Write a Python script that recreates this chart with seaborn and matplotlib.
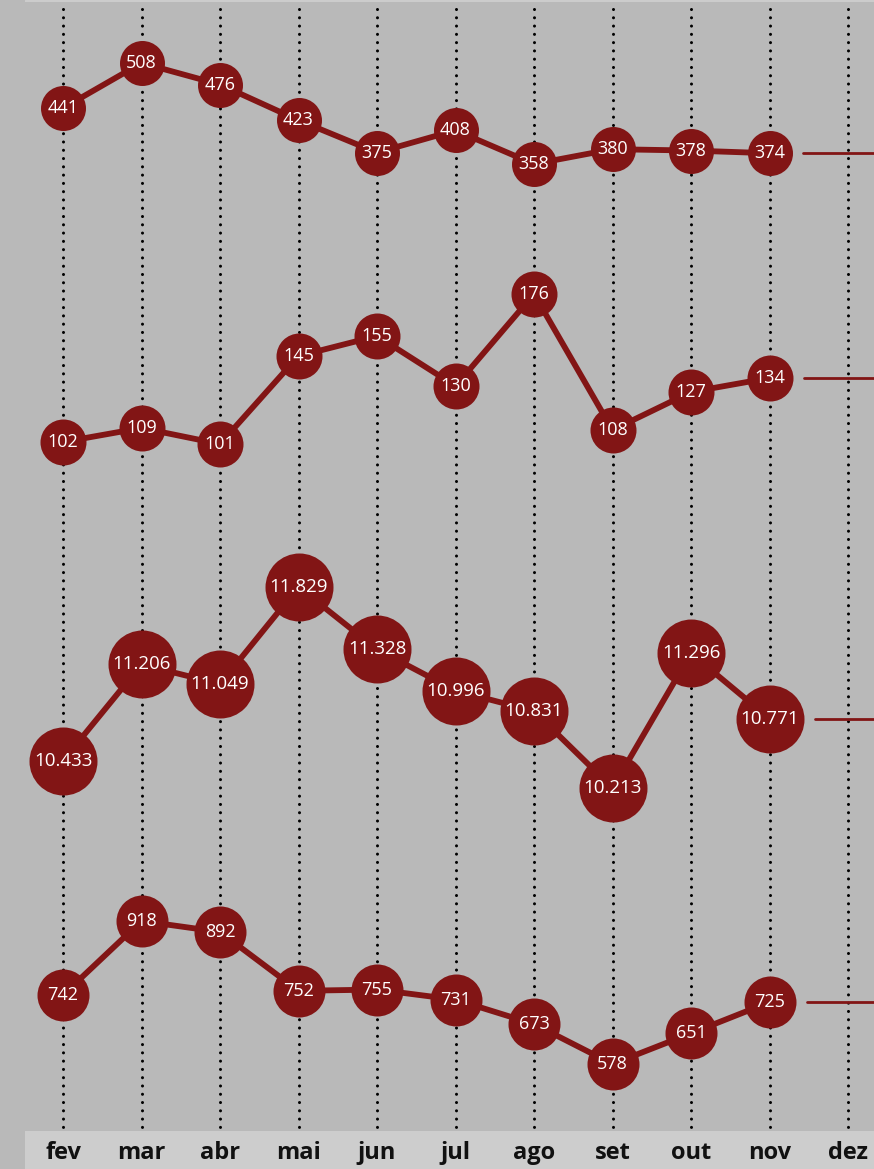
import matplotlib
matplotlib.use("Agg")
import matplotlib.pyplot as plt
import seaborn as sns
import pandas as pd
import numpy as np

months = ["fev", "mar", "abr", "mai", "jun", "jul", "ago", "set", "out", "nov", "dez"]
series1 = [441, 508, 476, 423, 375, 408, 358, 380, 378, 374]
series2 = [102, 109, 101, 145, 155, 130, 176, 108, 127, 134]
series3 = [10.433, 11.206, 11.049, 11.829, 11.328, 10.996, 10.831, 10.213, 11.296, 10.771]
series4 = [742, 918, 892, 752, 755, 731, 673, 578, 651, 725]

sns.set_theme(style="white")
plt.rcParams['font.family'] = ['Open Sans', 'DejaVu Sans']

W, H = 874, 1169
BG = "#b9b9b9"
RED = "#821515"
fig = plt.figure(figsize=(W / 100, H / 100), dpi=100, facecolor=BG)

X0, DX = 63.0, 78.5  # pixel position of first month and spacing
xlim = (-X0 / DX, (W - X0) / DX)

# background axis in pixel-y units
bg = fig.add_axes([0, 0, 1, 1], zorder=0)
bg.set_facecolor(BG)
bg.set_xlim(*xlim)
bg.set_ylim(H, 0)
bg.axis("off")
xs_all = np.arange(len(months))
for x in xs_all:
    bg.plot([x, x], [9, 1128], color="black", lw=2.2,
            linestyle=(0, (0.01, 2.7)), dash_capstyle="round", zorder=1)

# bottom strip with month labels
strip = fig.add_axes([25 / W, 0, 1 - 25 / W, 38 / H], zorder=2)
strip.set_facecolor("#cdcdcd")
strip.set_xlim(xlim[0] + 25 / DX, xlim[1])
strip.set_ylim(0, 1)
for s in strip.spines.values():
    s.set_visible(False)
strip.set_xticks([])
strip.set_yticks([])
for i, m in enumerate(months):
    strip.text(i, 0.42, m, ha="center", va="center", fontsize=17,
               fontweight="bold", color="#111111")

# thin light line at the top
topl = fig.add_axes([25 / W, 1 - 2 / H, 1 - 25 / W, 2 / H], zorder=2)
topl.axis("off")
topl.add_patch(plt.Rectangle((0, 0), 1, 1, transform=topl.transAxes, color="#cccccc"))

panels = [
    # values, (vA, pxA), (vB, pxB), band px, marker diameter px, fmt
    (series1, (508, 63), (358, 164), (0, 230), 45, "{:.0f}"),
    (series2, (176, 294), (101, 444), (230, 520), 46, "{:.0f}"),
    (series3, (11.829, 587), (10.213, 788), (520, 860), 68, "{:.3f}"),
    (series4, (918, 921), (578, 1064), (860, 1128), 52, "{:.0f}"),
]

for vals, (vA, pA), (vB, pB), (ptop, pbot), dpx, fmt in panels:
    k = (vA - vB) / (pB - pA)
    vtop = vA + (pA - ptop) * k
    vbot = vA + (pA - pbot) * k
    ax = fig.add_axes([0, 1 - pbot / H, 1, (pbot - ptop) / H], zorder=3)
    ax.patch.set_alpha(0)
    ax.set_xlim(*xlim)
    ax.set_ylim(vbot, vtop)
    ax.axis("off")
    df = pd.DataFrame({"x": np.arange(len(vals)), "v": vals})
    sns.lineplot(data=df, x="x", y="v", ax=ax, color=RED, lw=4.2,
                 solid_capstyle="round", zorder=2)
    s = (dpx * 0.72) ** 2
    sns.scatterplot(data=df, x="x", y="v", ax=ax, color=RED, s=s,
                    linewidth=0, zorder=3, legend=False)
    fs = 13.5 if dpx > 60 else 13
    for x, v in zip(df["x"], df["v"]):
        lbl = fmt.format(v)
        ax.text(x, v, lbl, ha="center", va="center", color="white",
                fontsize=fs, zorder=4)
    # reference line to the right of the last point
    last = len(vals) - 1
    start = last + (dpx / 2 + 11) / DX
    ax.plot([start, xlim[1] + 0.1], [vals[-1], vals[-1]], color=RED, lw=2.0,
            zorder=2, clip_on=False)

fig.savefig("out.png", dpi=100, facecolor=BG)
